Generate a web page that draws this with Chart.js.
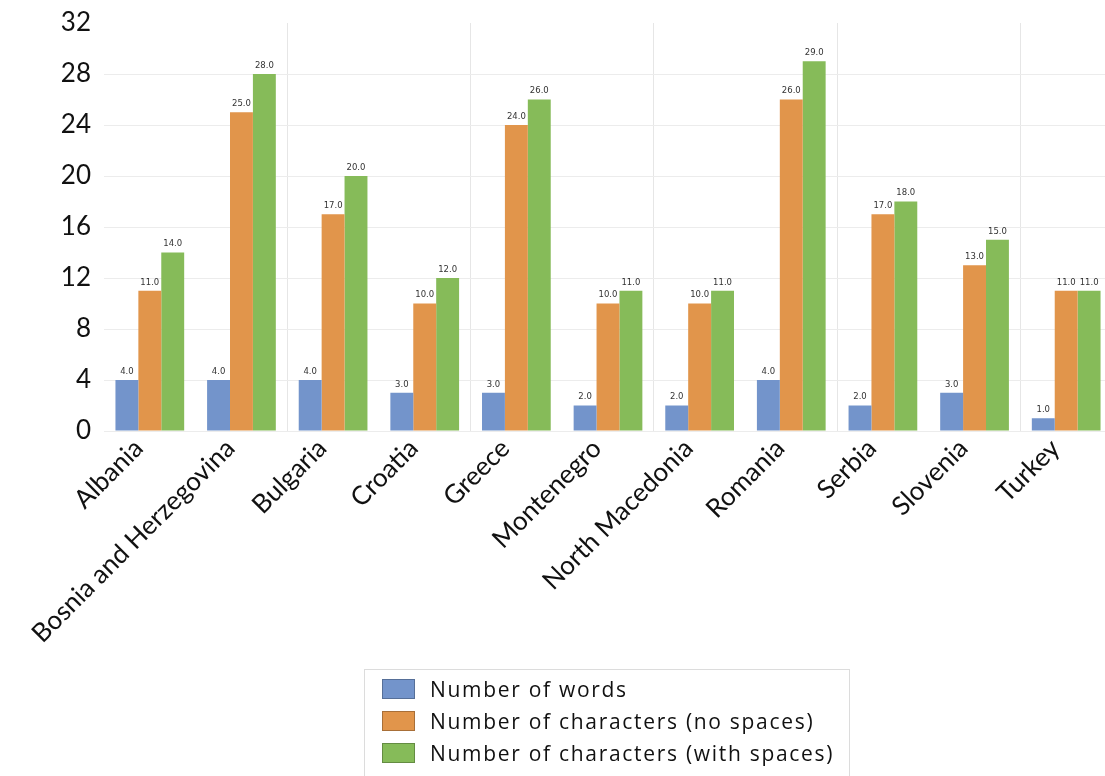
<!DOCTYPE html>
<html>
<head>
<meta charset="utf-8">
<script src="https://cdn.jsdelivr.net/npm/chart.js@4"></script>
<style>
  html, body { margin: 0; padding: 0; background: #fff; overflow: hidden; }
  #wrap { position: relative; width: 1112px; height: 776px; }
  #legend {
    position: absolute; left: 364px; top: 669px; width: 486px; height: 120px;
    border: 1px solid #dcdcdc; box-sizing: border-box; padding-top: 3px;
    font-family: "Open Sans", sans-serif; font-size: 21px; letter-spacing: 1.7px; color: #111;
  }
  .item { display: flex; align-items: center; height: 32px; }
  .swatch { width: 33px; height: 20px; margin-left: 17px; margin-right: 15px; box-sizing: border-box; border: 1px solid rgba(0,0,0,0.25); }
</style>
</head>
<body>
<div id="wrap">
  <canvas id="chart" width="1112" height="776"></canvas>
  <div id="legend"></div>
</div>
<script>
// data
const countries = ['Albania', 'Bosnia and Herzegovina', 'Bulgaria', 'Croatia', 'Greece',
  'Montenegro', 'North Macedonia', 'Romania', 'Serbia', 'Slovenia', 'Turkey'];
const words = [4, 4, 4, 3, 3, 2, 2, 4, 2, 3, 1];
const charsNoSpaces = [11, 25, 17, 10, 24, 10, 10, 26, 17, 13, 11];
const charsWithSpaces = [14, 28, 20, 12, 26, 11, 11, 29, 18, 15, 11];
const seriesNames = ['Number of words', 'Number of characters (no spaces)', 'Number of characters (with spaces)'];
const colors = ['#7394CB', '#E1954B', '#86BB59'];

// little value labels above each bar
const valueLabels = {
    id: 'valueLabels',
    afterDatasetsDraw(chart) {
        const ctx = chart.ctx;
        ctx.save();
        ctx.font = '8.5px "DejaVu Sans", sans-serif';
        ctx.fillStyle = '#333';
        ctx.textAlign = 'center';
        ctx.textBaseline = 'bottom';
        chart.data.datasets.forEach((ds, i) => {
            chart.getDatasetMeta(i).data.forEach((bar, j) => {
                ctx.fillText(ds.data[j].toFixed(1), bar.x, bar.y - 4);
            });
        });
        ctx.restore();
    }
};

const chart = new Chart(document.getElementById('chart'), {
    type: 'bar',
    data: {
        labels: countries,
        datasets: [words, charsNoSpaces, charsWithSpaces].map((d, i) => ({
            label: seriesNames[i],
            data: d,
            backgroundColor: colors[i],
            categoryPercentage: 0.75,
            barPercentage: 1.0
        }))
    },
    options: {
        responsive: false,
        animation: false,
        layout: { padding: 0 },
        plugins: {
            legend: { display: false },
            tooltip: { enabled: false }
        },
        scales: {
            x: {
                afterFit: s => { s.height = 345; },
                border: { display: false },
                grid: {
                    offset: true,
                    drawTicks: false,
                    // only every second category boundary gets a line
                    color: c => (c.index > 0 && c.index % 2 === 0) ? '#e6e6e6' : 'rgba(0,0,0,0)'
                },
                ticks: {
                    autoSkip: false,
                    maxRotation: 45,
                    minRotation: 45,
                    padding: 2,
                    labelOffset: -11,
                    color: '#111',
                    font: { family: 'Lato', size: 26 }
                }
            },
            y: {
                min: 0,
                max: 32,
                afterFit: s => { s.width = 104; },
                border: { display: false },
                grid: {
                    color: c => (c.tick && c.tick.value === 32) ? 'rgba(0,0,0,0)' : '#ececec',
                    drawTicks: false
                },
                ticks: {
                    stepSize: 4,
                    padding: 13,
                    color: '#111',
                    font: { family: 'Lato', size: 26, lineHeight: 0.77 }
                }
            }
        }
    },
    plugins: [valueLabels]
});

// legend box below the chart
const legend = document.getElementById('legend');
seriesNames.forEach((name, i) => {
    const row = document.createElement('div');
    row.className = 'item';
    const sw = document.createElement('span');
    sw.className = 'swatch';
    sw.style.background = colors[i];
    const txt = document.createElement('span');
    txt.textContent = name;
    row.appendChild(sw);
    row.appendChild(txt);
    legend.appendChild(row);
});
</script>
</body>
</html>
